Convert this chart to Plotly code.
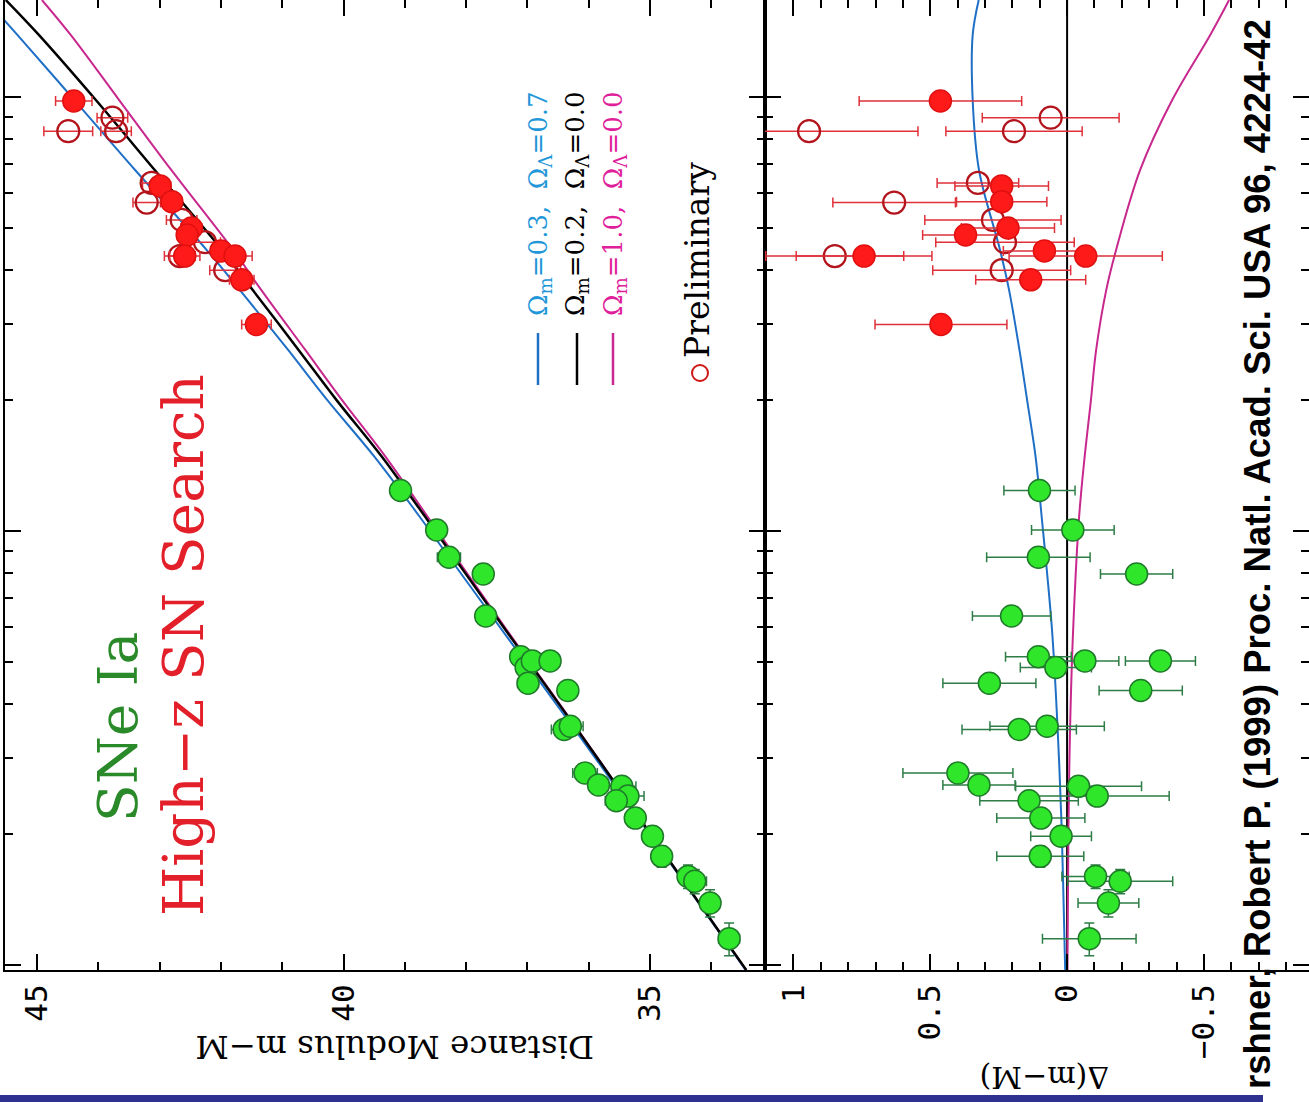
import plotly.graph_objects as go

# ---------------- data ----------------
# High-z SN Search (red). prelim=True -> open circle
red_z = [0.979, 0.896, 0.834, 0.834, 0.634, 0.624, 0.571, 0.574, 0.521, 0.499,
         0.481, 0.463, 0.442, 0.430, 0.430, 0.430, 0.399, 0.379, 0.299]
red_mu = [44.40, 43.77, 44.49, 43.71, 43.13, 42.99, 43.21, 42.80, 42.64, 42.48,
          42.55, 42.26, 42.00, 42.67, 42.59, 41.77, 41.93, 41.66, 41.42]
red_dmu = [0.463, 0.060, 0.943, 0.194, 0.326, 0.239, 0.632, 0.239, 0.271, 0.216,
           0.371, 0.227, 0.083, 0.849, 0.742, -0.068, 0.239, 0.133, 0.461]
red_err = [0.297, 0.250, 0.398, 0.249, 0.149, 0.171, 0.224, 0.165, 0.249, 0.170,
           0.157, 0.253, 0.150, 0.252, 0.248, 0.280, 0.252, 0.201, 0.241]
red_prelim = [False, True, True, True, True, False, True, False, True, False,
              False, True, False, True, False, False, True, False, False]

# Low-z SNe Ia (green)
green_z = [0.1240, 0.1005, 0.0870, 0.0796, 0.0637, 0.0513, 0.0485, 0.0502, 0.0502, 0.0446,
           0.0429, 0.0349, 0.0355, 0.0277, 0.0260, 0.0258, 0.0245, 0.0239, 0.0218, 0.0198,
           0.0178, 0.0160, 0.0156, 0.0139, 0.0115]
green_mu = [39.07, 38.48, 38.28, 37.72, 37.68, 37.11, 37.02, 36.92, 36.63, 36.99,
            36.34, 36.40, 36.30, 36.06, 35.84, 35.46, 35.36, 35.55, 35.24, 34.96,
            34.81, 34.38, 34.27, 34.02, 33.71]
green_dmu = [0.101, -0.021, 0.105, -0.254, 0.203, 0.105, 0.041, -0.065, -0.341, 0.284,
             -0.269, 0.175, 0.073, 0.399, 0.322, -0.042, -0.110, 0.139, 0.096, 0.022,
             0.098, -0.104, -0.194, -0.151, -0.081]
green_err = [0.130, 0.151, 0.189, 0.132, 0.143, 0.120, 0.130, 0.124, 0.128, 0.170,
             0.152, 0.209, 0.209, 0.201, 0.132, 0.230, 0.263, 0.180, 0.161, 0.111,
             0.159, 0.123, 0.192, 0.111, 0.171]
green_zerr = 0.001

# model curves
model_z = [1.673, 1.390, 0.984, 0.679, 0.444, 0.359, 0.261, 0.200, 0.148, 0.108,
           0.059, 0.0354, 0.0208, 0.0141, 0.00974]
mu_open = [45.51, 44.97, 44.04, 43.08, 41.98, 41.48, 40.73, 40.11, 39.37, 38.67,
           37.35, 36.22, 35.07, 34.23, 33.43]
mu_lcdm = [45.83, 45.32, 44.39, 43.40, 42.23, 41.69, 40.90, 40.26, 39.49, 38.76,
           37.41, 36.26, 35.09, 34.24, 33.44]
mu_flat = [44.92, 44.45, 43.66, 42.81, 41.80, 41.34, 40.62, 40.02, 39.31, 38.63,
           37.33, 36.21, 35.07, 34.23, 33.43]
dmu_lcdm = [0.323, 0.345, 0.345, 0.322, 0.245, 0.212, 0.174, 0.146, 0.115, 0.093,
            0.055, 0.035, 0.020, 0.013, 0.007]
dmu_flat = [-0.592, -0.523, -0.384, -0.267, -0.179, -0.143, -0.106, -0.087, -0.064, -0.044,
            -0.022, -0.011, -0.005, -0.003, -0.001]
dmu_open = [0.0, 0.0]
open_z_span = [1.673, 0.00974]

mu_ticks = [45, 40, 35]
mu_ticktext = ["45", "40", "35"]
dmu_ticks = [1, 0.5, 0, -0.5]
dmu_ticktext = ["1", "0.5", "0", "\u22120.5"]

legend_labels = ["\u03a9<sub>m</sub>=0.3,  \u03a9<sub>\u039b</sub>=0.7",
                 "\u03a9<sub>m</sub>=0.2,  \u03a9<sub>\u039b</sub>=0.0",
                 "\u03a9<sub>m</sub>=1.0,  \u03a9<sub>\u039b</sub>=0.0"]
citation = "rshner, Robert P. (1999) Proc. Natl. Acad. Sci. USA 96, 4224-42"

# ---------------- styles ----------------
W, H = 1309, 1102
C_BLUE = "#1f6fc6"
C_MAG = "#c8288e"
C_RED = "#ff1a1a"
C_DRED = "#b3141c"
C_GREEN = "#2fe62a"
C_DGREEN = "#1f7a2a"
SERIF = "DejaVu Serif"


def px(xp):
    return xp / W


def py(yp):
    return 1 - yp / H


fig = go.Figure()

# model curves - left panel
for mu, col, wd in [(mu_lcdm, C_BLUE, 2), (mu_flat, C_MAG, 2), (mu_open, "black", 2.5)]:
    fig.add_trace(go.Scatter(x=mu, y=model_z, mode="lines", line=dict(color=col, width=wd, shape="spline"),
                             xaxis="x", yaxis="y", showlegend=False, hoverinfo="skip"))
# model curves - right panel
fig.add_trace(go.Scatter(x=dmu_open, y=open_z_span, mode="lines", line=dict(color="black", width=2),
                         xaxis="x2", yaxis="y2", showlegend=False, hoverinfo="skip"))
for dm, col in [(dmu_lcdm, C_BLUE), (dmu_flat, C_MAG)]:
    fig.add_trace(go.Scatter(x=dm, y=model_z, mode="lines", line=dict(color=col, width=2, shape="spline"),
                             xaxis="x2", yaxis="y2", showlegend=False, hoverinfo="skip"))


def add_points(xs, zs, errs, ax, ay, filled, color, lcolor, ecolor, zerr=None):
    kw = {}
    if zerr is not None:
        kw["error_y"] = dict(type="constant", value=zerr, color=ecolor, thickness=1.5, width=5)
    fig.add_trace(go.Scatter(
        x=xs, y=zs, mode="markers", xaxis=ax, yaxis=ay, showlegend=False, hoverinfo="skip",
        error_x=dict(type="data", array=errs, color=ecolor, thickness=1.5, width=5),
        marker=dict(symbol="circle" if filled else "circle-open", size=22,
                    color=color if filled else lcolor,
                    line=dict(color=lcolor, width=1.5 if filled else 2.2)),
        **kw))


for ax, ay, vals in [("x", "y", red_mu), ("x2", "y2", red_dmu)]:
    fx = [v for v, p in zip(vals, red_prelim) if not p]
    fz = [v for v, p in zip(red_z, red_prelim) if not p]
    fe = [v for v, p in zip(red_err, red_prelim) if not p]
    ox = [v for v, p in zip(vals, red_prelim) if p]
    oz = [v for v, p in zip(red_z, red_prelim) if p]
    oe = [v for v, p in zip(red_err, red_prelim) if p]
    add_points(ox, oz, oe, ax, ay, False, C_RED, C_DRED, "#e0303a")
    add_points(fx, fz, fe, ax, ay, True, C_RED, "#e01010", "#e0303a")
    vals_g = green_mu if ax == "x" else green_dmu
    add_points(vals_g, green_z, green_err, ax, ay, True, C_GREEN, C_DGREEN, "#2e7d46", zerr=green_zerr)

axis_common = dict(ticks="inside", ticklen=16, tickwidth=2, tickcolor="black", showline=True,
                   linewidth=2, linecolor="black", mirror="ticks", showgrid=False, zeroline=False,
                   automargin=False)
ydom = [py(970), 1.0]

fig.update_layout(
    width=W, height=H, margin=dict(l=0, r=0, t=0, b=0),
    paper_bgcolor="white", plot_bgcolor="white",
    xaxis=dict(domain=[px(5), px(765)], range=[45.522, 33.124], anchor="y",
               tickvals=mu_ticks, ticktext=mu_ticktext, tickangle=-90,
               tickfont=dict(family="DejaVu Sans Mono", size=31, color="black"),
               minor=dict(ticks="inside", ticklen=8, tickwidth=2, tickcolor="black", dtick=1),
               **axis_common),
    xaxis2=dict(domain=[px(765), 1.0], range=[1.104, -0.884], anchor="y2",
                tickvals=dmu_ticks, ticktext=dmu_ticktext, tickangle=-90,
                tickfont=dict(family="DejaVu Sans Mono", size=31, color="black"),
                minor=dict(ticks="inside", ticklen=8, tickwidth=2, tickcolor="black", dtick=0.1),
                **axis_common),
    yaxis=dict(domain=ydom, type="log", range=[-2.0115, 0.2235], anchor="x", dtick=1,
               showticklabels=False,
               minor=dict(ticks="inside", ticklen=8, tickwidth=2, tickcolor="black", dtick="D1"),
               **axis_common),
    yaxis2=dict(domain=ydom, type="log", range=[-2.0115, 0.2235], anchor="x2", dtick=1,
                showticklabels=False,
                minor=dict(ticks="inside", ticklen=8, tickwidth=2, tickcolor="black", dtick="D1"),
                **axis_common),
)

ann = []


def text(x, y, s, size, color="black", angle=-90, family=SERIF):
    ann.append(dict(x=px(x), y=py(y), xref="paper", yref="paper", text=s, showarrow=False,
                    textangle=angle, font=dict(family=family, size=size, color=color),
                    xanchor="center", yanchor="middle"))


text(395, 1047, "Distance Modulus m\u2212M", 32.5, angle=180)
text(1045, 1078, "\u0394(m\u2212M)", 30, angle=180)
text(118, 727, "SNe Ia", 55, color="#2a8a2a")
text(183, 645, "High\u2212z SN Search", 56.5, color="#e3202a")
for xc, lab, col in zip([540, 577, 615], legend_labels, ["#1f97d8", "black", "#e0209a"]):
    text(xc, 204, lab, 26, color=col)
text(697, 260, "Preliminary", 33)
text(1257, 554, "<b>" + citation + "</b>", 36.5, family="Liberation Sans")

shapes = []
for xc, col in zip([538, 577, 613], [C_BLUE, "black", C_MAG]):
    shapes.append(dict(type="line", xref="paper", yref="paper", x0=px(xc), x1=px(xc),
                       y0=py(333), y1=py(385), line=dict(color=col, width=2.5)))
shapes.append(dict(type="circle", xref="paper", yref="paper", x0=px(692), x1=px(708),
                   y0=py(365), y1=py(381), line=dict(color="#d01818", width=2)))
shapes.append(dict(type="rect", xref="paper", yref="paper", x0=0, x1=px(1263),
                   y0=0, y1=py(1095), line=dict(width=0), fillcolor="#2e3190"))

fig.update_layout(annotations=ann, shapes=shapes)
fig.write_html("out.html")
